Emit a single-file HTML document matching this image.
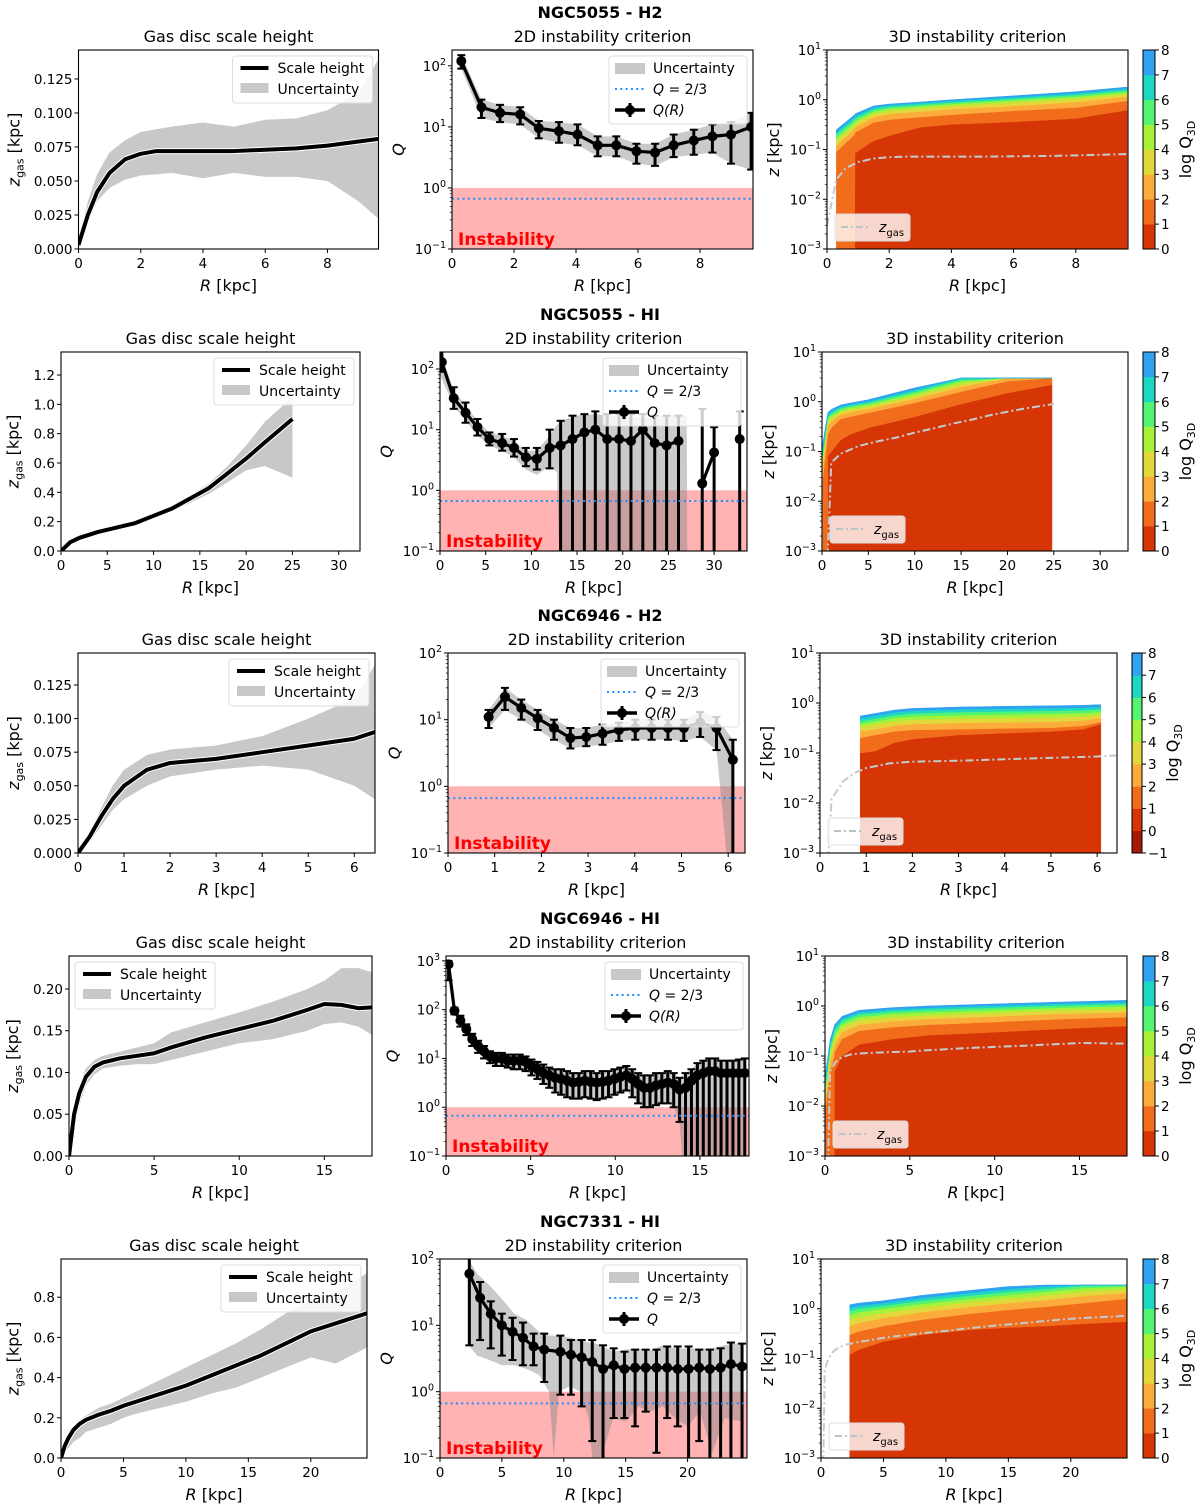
<!DOCTYPE html>
<html><head><meta charset="utf-8"><style>
html,body{margin:0;padding:0;background:#fff;overflow:hidden;width:1200px;height:1509px;}
svg{display:block;font-family:"DejaVu Sans","Liberation Sans",sans-serif;}
</style></head><body>
<svg id="fig" width="1200" height="1509" viewBox="0 0 1200 1509" xmlns="http://www.w3.org/2000/svg"></svg>
<script>
// ---------------- DATA ----------------
// Row 1: NGC5055 - H2
const r1L_R=[0,0.3,0.6,1,1.5,2,2.5,3,4,5,6,7,8,9,9.65];
const r1L_z=[0.003,0.025,0.042,0.056,0.066,0.070,0.072,0.072,0.072,0.072,0.073,0.074,0.076,0.079,0.081];
const r1L_hi=[0.005,0.035,0.055,0.071,0.080,0.086,0.088,0.090,0.093,0.090,0.095,0.096,0.102,0.115,0.14];
const r1L_lo=[0.002,0.02,0.035,0.045,0.051,0.054,0.055,0.056,0.052,0.056,0.053,0.053,0.050,0.035,0.022];
const r1M_R=[0.3,0.95,1.55,2.2,2.8,3.45,4.05,4.7,5.3,5.95,6.55,7.15,7.8,8.4,9.0,9.65];
const r1M_Q=[120,21,17,16,9.5,8.5,7.5,5,5,4,3.8,5,6,7,7.5,10];
const r1M_up=[150,28,23,21,12.5,12,11,7,7,5.3,5.3,7.5,9,11,12,17];
const r1M_lo=[90,14,12,11,6.5,5.5,5,3.3,3.3,2.5,2.3,3.2,3.5,3.8,2.5,2];
const r1R_R=[0.3,0.89,0.9,1.5,2,3,4,6,8,9.65];
const r1R_b=[
[0.001,0.001,0.085,0.15,0.19,0.28,0.32,0.36,0.42,0.62],
[0.09,0.2,0.22,0.35,0.4,0.45,0.5,0.6,0.7,0.95],
[0.12,0.26,0.28,0.45,0.52,0.58,0.65,0.75,0.9,1.15],
[0.15,0.31,0.33,0.52,0.6,0.67,0.75,0.88,1.05,1.3],
[0.17,0.35,0.37,0.58,0.66,0.74,0.82,0.97,1.15,1.42],
[0.2,0.4,0.42,0.64,0.72,0.8,0.88,1.05,1.25,1.55],
[0.22,0.45,0.47,0.7,0.78,0.86,0.95,1.12,1.35,1.68],
[0.25,0.5,0.52,0.75,0.82,0.9,1.0,1.2,1.45,1.8]];
// Row 2: NGC5055 - HI
const r2L_R=[0,1,2,4,6,8,10,12,14,16,18,20,22,25];
const r2L_z=[0.0,0.06,0.09,0.13,0.16,0.19,0.24,0.29,0.36,0.43,0.53,0.63,0.74,0.9];
const r2L_hi=[0,0.07,0.1,0.14,0.17,0.21,0.26,0.31,0.38,0.46,0.58,0.72,0.88,1.05];
const r2L_lo=[0,0.05,0.08,0.12,0.15,0.17,0.22,0.27,0.33,0.39,0.47,0.55,0.58,0.5];
const r2M_R=[0.2,1.5,2.8,4.1,5.4,6.8,8.1,9.4,10.6,12.0,13.2,14.5,15.8,17.0,18.3,19.6,20.9,22.2,23.5,24.8,26.1,27.4,28.7,30.0,31.4,32.8];
const r2M_Q=[130,33,19,11,7,6,5,3.5,3.3,5,5.5,7,9,10,7,7,6.5,10,6,5.5,6.5,null,1.3,4.2,null,7];
const r2M_up=[200,50,28,15,9,8.5,7,5,5,10,14,17,18,20,18,18,18,18,17,17,17,null,22,11,null,20];
const r2M_lo=[90,22,13,8,5.5,4.5,3.6,2.5,2.2,2.3,0.01,0.01,0.01,0.01,0.01,0.01,0.01,0.01,0.01,0.01,0.01,null,0.01,0.01,null,0.01];
const r2M_bR=[0,1.5,2.8,4.1,5.4,6.8,8.1,9.4,10.6,12,12.8,13.2,15,17,20,22,25,27,27.1];
const r2M_bHi=[200,45,25,14,9,8,6.5,4.5,4.5,8,12,14,17,18,16,16,17,17,0.01];
const r2M_bLo=[80,25,14,8,5.5,4.5,3.5,2.2,1.8,2.5,2,0.01,0.01,0.01,0.01,0.01,0.01,0.01,0.01];
const r2R_R=[0.1,0.6,0.61,1,2,3,5,10,15,20,24.8];
const r2R_b=[
[0.001,0.001,0.08,0.1,0.17,0.22,0.3,0.5,0.9,1.5,2.2],
[0.03,0.2,0.22,0.3,0.45,0.5,0.6,0.95,1.6,2.6,3],
[0.05,0.3,0.32,0.4,0.55,0.62,0.72,1.15,2,3,3],
[0.07,0.36,0.38,0.46,0.62,0.7,0.8,1.3,2.3,3,3],
[0.08,0.42,0.44,0.52,0.68,0.76,0.88,1.45,2.6,3,3],
[0.1,0.47,0.49,0.58,0.74,0.82,0.95,1.6,2.8,3,3],
[0.12,0.52,0.54,0.64,0.8,0.88,1.02,1.75,3,3,3],
[0.15,0.57,0.6,0.7,0.86,0.94,1.1,1.9,3,3,3]];
// Row 3: NGC6946 - H2
const r3L_R=[0,0.25,0.5,0.75,1,1.5,2,3,4,5,6,6.45];
const r3L_z=[0,0.012,0.027,0.04,0.05,0.062,0.067,0.070,0.075,0.080,0.085,0.09];
const r3L_hi=[0,0.015,0.033,0.05,0.062,0.073,0.077,0.08,0.087,0.1,0.115,0.14];
const r3L_lo=[0,0.008,0.02,0.032,0.04,0.05,0.057,0.062,0.065,0.062,0.05,0.04];
const r3M_R=[0.87,1.22,1.57,1.92,2.27,2.62,2.96,3.31,3.66,4.01,4.36,4.71,5.05,5.4,5.75,6.1];
const r3M_Q=[11,22,15,10.5,7.5,5.3,5.5,6.2,7,7.5,7.5,7.5,7.5,9,7.5,2.5];
const r3M_up=[14,30,20,14,10,7.5,7.5,8.5,9,10,10,10,10,13,11,5];
const r3M_lo=[7.5,14,10,7,5,3.7,4,4.2,4.8,5,5,5,4.8,5.5,3.5,0.01];
const r3R_R=[0.87,1.2,1.6,2,3,4,5,5.7,6.08];
const r3R_b=[
[0.1,0.11,0.16,0.19,0.23,0.25,0.27,0.3,0.38],
[0.2,0.23,0.27,0.29,0.3,0.31,0.32,0.35,0.42],
[0.27,0.3,0.35,0.38,0.4,0.41,0.42,0.45,0.5],
[0.33,0.37,0.43,0.46,0.49,0.5,0.52,0.54,0.58],
[0.38,0.43,0.5,0.54,0.57,0.59,0.61,0.63,0.66],
[0.43,0.49,0.57,0.62,0.66,0.68,0.7,0.72,0.75],
[0.49,0.56,0.65,0.7,0.75,0.77,0.79,0.81,0.84],
[0.55,0.62,0.72,0.78,0.83,0.86,0.88,0.9,0.93]];
// Row 4: NGC6946 - HI
const r4L_R=[0,0.3,0.6,1,1.5,2,3,4,5,6,8,10,12,14,15,16,17,17.8];
const r4L_z=[0,0.05,0.075,0.095,0.107,0.112,0.117,0.12,0.123,0.13,0.142,0.152,0.162,0.175,0.182,0.181,0.177,0.178];
const r4L_hi=[0,0.06,0.085,0.105,0.115,0.12,0.125,0.13,0.135,0.148,0.16,0.172,0.185,0.2,0.21,0.225,0.225,0.22];
const r4L_lo=[0,0.03,0.06,0.085,0.098,0.105,0.108,0.11,0.11,0.115,0.125,0.135,0.14,0.15,0.158,0.16,0.155,0.145];
const r4M_R=[0.15,0.5,0.85,1.2,1.55,1.9,2.25,2.6,2.95,3.3,3.65,4.0,4.35,4.7,5.05,5.4,5.75,6.1,6.45,6.8,7.15,7.5,7.85,8.2,8.55,8.9,9.25,9.6,9.95,10.3,10.65,11.0,11.35,11.7,12.05,12.4,12.75,13.1,13.45,13.8,14.15,14.5,14.85,15.2,15.55,15.9,16.25,16.6,16.95,17.3,17.65];
const r4M_Q=[850,95,60,40,25,18,14,11,10,10,9,9,9,8.5,7,6,5,4.5,4,3.8,3.5,3.2,3.3,3.5,3.3,3.2,3.3,3.5,3.8,4.2,4.5,3.8,3,2.5,2.5,2.8,3,3.2,3,2.3,2.5,3.5,4.5,5,5.5,5.5,5,5,5,5,5];
const r4M_up=[1000,110,75,50,32,23,18,14,13,13,12,12,12,11,9.5,8.5,7.5,6.5,6,6,5.5,5,5,5.5,5.5,5,5.5,5.5,6,6.5,7,6,5,4.5,4.5,5,5,5.5,5,4,5,6,8,9,10,10,9,9,9,9.5,10];
const r4M_lo=[400,80,45,30,18,13,10,8,7,7,6.5,6,6,5.5,4.5,3.8,3,2.5,2,1.8,1.6,1.5,1.5,1.6,1.5,1.4,1.5,1.6,1.8,2,2.2,1.6,1.2,1,1,1.1,1.2,1.2,1,0.5,0.01,0.01,0.01,0.01,0.01,0.01,0.01,0.01,0.01,0.01,0.01];
const r4R_R=[0.05,0.3,0.55,0.56,1,2,4,6,10,14,17.8];
const r4R_b=[
[0.001,0.001,0.001,0.05,0.1,0.17,0.22,0.26,0.3,0.35,0.4],
[0.01,0.05,0.1,0.12,0.22,0.32,0.38,0.42,0.48,0.55,0.6],
[0.015,0.08,0.15,0.17,0.3,0.42,0.5,0.55,0.62,0.7,0.75],
[0.02,0.1,0.2,0.22,0.37,0.52,0.6,0.65,0.73,0.82,0.88],
[0.025,0.13,0.25,0.27,0.43,0.6,0.7,0.75,0.83,0.93,1.0],
[0.03,0.15,0.3,0.32,0.5,0.68,0.78,0.84,0.93,1.03,1.1],
[0.04,0.18,0.35,0.37,0.56,0.75,0.86,0.92,1.02,1.12,1.2],
[0.05,0.21,0.4,0.42,0.62,0.82,0.93,1.0,1.1,1.2,1.3]];
// Row 5: NGC7331 - HI
const r5L_R=[0,0.3,0.6,1,1.5,2,3,4,5,6,8,10,12,14,16,18,20,22,24.5];
const r5L_z=[0,0.06,0.1,0.14,0.17,0.19,0.215,0.235,0.26,0.28,0.32,0.36,0.41,0.46,0.51,0.57,0.63,0.67,0.72];
const r5L_hi=[0,0.07,0.12,0.16,0.19,0.21,0.25,0.27,0.3,0.33,0.39,0.45,0.51,0.57,0.64,0.72,0.78,0.82,0.92];
const r5L_lo=[0,0.03,0.05,0.08,0.1,0.13,0.15,0.17,0.2,0.22,0.25,0.28,0.32,0.35,0.4,0.45,0.5,0.47,0.55];
const r5M_R=[2.37,3.24,4.1,4.99,5.86,6.7,7.56,8.42,9.72,10.58,11.44,12.3,13.17,14.03,14.9,15.76,16.62,17.49,18.35,19.2,20.08,20.94,21.8,22.67,23.5,24.4];
const r5M_Q=[60,26,15,10,8,6.5,4.8,4.3,4,3.6,3.3,2.8,2.2,2.5,2.2,2.3,2.3,2.3,2.3,2.2,2.2,2.3,2.2,2.3,2.6,2.4];
const r5M_up=[110,45,23,15,13,11,7.5,7.5,7,6,6,6,5,4.5,4,4.3,4.3,4.3,4.8,4.8,4.8,4.3,4.3,4.5,5.5,5.3];
const r5M_lo=[5,6,4.5,3.5,3,2.5,2.5,1.4,0.9,0.9,0.6,0.18,0.01,0.4,0.4,0.3,0.5,0.12,0.4,0.3,0.01,0.18,0.01,0.01,0.01,0.01];
const r5M_bR=[2.3,3,4,5,6,7,8,8.8,9.2,9.6,10.5,11.3,12,12.3,13,14,15,16,17,18,19,20,21,22,23,24.5];
const r5M_bHi=[100,60,40,25,15,12,8,7,7,7,6.5,6,5.5,5.5,5,4,4.3,4.5,4.2,5,4.5,4.5,4.5,4.5,5,5.5];
const r5M_bLo=[5,3.5,3,2.5,2.5,2.2,1.8,1,0.1,1,1.2,1,0.4,0.1,0.1,0.4,0.35,0.6,0.5,0.6,0.4,0.3,0.5,0.12,0.4,0.35];
const r5R_R=[2.3,3,5,8,12,15,18,21,24.5];
const r5R_b=[
[0.12,0.15,0.22,0.3,0.38,0.42,0.45,0.5,0.55],
[0.3,0.35,0.45,0.6,0.8,0.95,1.1,1.3,1.6],
[0.45,0.52,0.65,0.85,1.1,1.3,1.5,1.8,2.1],
[0.6,0.68,0.82,1.05,1.35,1.6,1.85,2.2,2.5],
[0.75,0.85,1.0,1.25,1.6,1.9,2.2,2.6,2.8],
[0.9,1.0,1.15,1.45,1.85,2.2,2.5,2.9,3],
[1.05,1.15,1.3,1.65,2.1,2.5,2.8,3,3],
[1.2,1.3,1.45,1.85,2.35,2.8,3,3,3]];
const levelColors=['#d63506','#f26d1b','#fcac3a','#e2d83c','#a6f23a','#52f472','#1ed7c3','#2fa3f2'];
const negColor='#a51a02';
const galaxyNames=['NGC5055 - H2','NGC5055 - HI','NGC6946 - H2','NGC6946 - HI','NGC7331 - HI'];

// ---------------- RENDER ----------------
const NS='http://www.w3.org/2000/svg';
const svg=document.getElementById('fig');
let clipN=0;
function el(tag,attrs,parent){const e=document.createElementNS(NS,tag);for(const k in attrs)e.setAttribute(k,attrs[k]);(parent||svg).appendChild(e);return e;}
function txt(x,y,s,size,anchor,parent,extra){const t=el('text',Object.assign({x:x,y:y,'font-size':size,'text-anchor':anchor||'middle',fill:'#000'},extra||{}),parent);t.textContent=s;return t;}
function pow10Label(x,y,exp,anchor,parent){
  const t=el('text',{x:x,y:y,'font-size':13.5,'text-anchor':anchor,fill:'#000'},parent);
  
  
  const a=el('tspan',{},t);a.textContent='10';
  const b=el('tspan',{dy:-6,'font-size':9.5},t);b.textContent=exp<0?'\u2212'+(-exp):String(exp);
  return t;
}
function makeAxes(c){
  const g=el('g',{});
  
  
  const id='clip'+(clipN++);
  const cp=el('clipPath',{id:id},g);
  el('rect',{x:c.x0,y:c.y0,width:c.x1-c.x0,height:c.y1-c.y0},cp);
  const X=v=>c.x0+(v-(c.xmin||0))/(c.xmax-(c.xmin||0))*(c.x1-c.x0);
  const Y=c.log?(v=>{const l=Math.log10(Math.max(v,1e-6));return c.y1-(l-Math.log10(c.ymin))/(Math.log10(c.ymax)-Math.log10(c.ymin))*(c.y1-c.y0);})
               :(v=>c.y1-(v-c.ymin)/(c.ymax-c.ymin)*(c.y1-c.y0));
  const inner=el('g',{'clip-path':'url(#'+id+')'},g);
  return {c,g,inner,X,Y};
}
function finishAxes(ax,xt,yt,ylab,ylabType){
  const c=ax.c,g=ax.g;
  const fr=el('rect',{x:c.x0,y:c.y0,width:c.x1-c.x0,height:c.y1-c.y0,fill:'none',stroke:'#000','stroke-width':1.1},g);
  
  
  xt.forEach(v=>{const x=ax.X(v);el('line',{x1:x,x2:x,y1:c.y1,y2:c.y1+4,stroke:'#000'},g);
    const t=txt(x,c.y1+19,String(v),13.5,'middle',g);
    
    });
  let maxw=0;
  if(c.log){
    const a=Math.round(Math.log10(c.ymin)),b=Math.floor(Math.log10(c.ymax)+1e-9);
    for(let e=a;e<=b;e++){const y=ax.Y(Math.pow(10,e));el('line',{x1:c.x0-4,x2:c.x0,y1:y,y2:y,stroke:'#000'},g);
      pow10Label(c.x0-6,y+5,e,'end',g);maxw=Math.max(maxw,e<0?30:24);
      for(let m=2;m<10;m++){const v=m*Math.pow(10,e);if(v>c.ymax)break;const ym=ax.Y(v);el('line',{x1:c.x0-2.2,x2:c.x0,y1:ym,y2:ym,stroke:'#000','stroke-width':0.7},g);}}
  } else {
    yt.vals.forEach(v=>{const y=ax.Y(v);el('line',{x1:c.x0-4,x2:c.x0,y1:y,y2:y,stroke:'#000'},g);
      const s=v.toFixed(yt.dec);const t=txt(c.x0-6,y+5,s,13.5,'end',g);
      
      
      maxw=Math.max(maxw,s.length*8.2);});
  }
  const xl=el('text',{x:(c.x0+c.x1)/2,y:c.y1+42,'font-size':16,'text-anchor':'middle'},g);
  
  
  const r=el('tspan',{'font-style':'italic'},xl);r.textContent='R';const k=el('tspan',{},xl);k.textContent=' [kpc]';
  const lx=c.x0-6-maxw-12,ly=(c.y0+c.y1)/2;
  const yl=el('text',{x:lx,y:ly,'font-size':16,'text-anchor':'middle',transform:'rotate(-90 '+lx+' '+ly+')'},g);
  
  
  if(ylabType==='zgas'){const a=el('tspan',{'font-style':'italic'},yl);a.textContent='z';const b=el('tspan',{dy:4,'font-size':11},yl);b.textContent='gas';const d=el('tspan',{dy:-4},yl);d.textContent=' [kpc]';}
  else if(ylabType==='Q'){const a=el('tspan',{'font-style':'italic'},yl);a.textContent='Q';}
  else {const a=el('tspan',{'font-style':'italic'},yl);a.textContent='z';const b=el('tspan',{},yl);b.textContent=' [kpc]';}
}
function title(ax,s){const t=txt((ax.c.x0+ax.c.x1)/2,ax.c.y0-8,s,16,'middle',ax.g);
  
  }
function band(ax,R,lo,hi,fill){
  let pts=[];for(let i=0;i<R.length;i++)if(hi[i]!=null)pts.push(ax.X(R[i])+','+ax.Y(hi[i]));
  for(let i=R.length-1;i>=0;i--)if(lo[i]!=null)pts.push(ax.X(R[i])+','+ax.Y(lo[i]));
  const p=el('polygon',{points:pts.join(' '),fill:fill||'#c8c8c8'},ax.inner);
  
  
}
function line(ax,R,z,attrs,name){
  let segs=[],cur=[];
  for(let i=0;i<R.length;i++){if(z[i]==null){if(cur.length)segs.push(cur);cur=[];continue;}cur.push(ax.X(R[i])+','+ax.Y(z[i]));}
  if(cur.length)segs.push(cur);
  segs.forEach(s=>{const p=el('polyline',Object.assign({points:s.join(' '),fill:'none','stroke-linejoin':'round'},attrs),ax.inner);
    
    });
}
function errs(ax,R,Q,lo,up){
  line(ax,R,Q,{stroke:'#000','stroke-width':3.2},'q-line');
  for(let i=0;i<R.length;i++){if(Q[i]==null)continue;const x=ax.X(R[i]);
    const e=el('line',{x1:x,x2:x,y1:ax.Y(lo[i]),y2:ax.Y(up[i]),stroke:'#000','stroke-width':3},ax.inner);
    
    
    el('line',{x1:x-4,x2:x+4,y1:ax.Y(up[i]),y2:ax.Y(up[i]),stroke:'#000','stroke-width':2},ax.inner);
    el('line',{x1:x-4,x2:x+4,y1:ax.Y(lo[i]),y2:ax.Y(lo[i]),stroke:'#000','stroke-width':2},ax.inner);
    const m=el('circle',{cx:x,cy:ax.Y(Q[i]),r:5,fill:'#000'},ax.inner);
    
    }
}
function instab(ax){
  const c=ax.c;
  const r=el('rect',{x:c.x0,y:ax.Y(1),width:c.x1-c.x0,height:c.y1-ax.Y(1),fill:'#ffb3b3'},ax.inner);
  
  
  const l=el('line',{x1:c.x0,x2:c.x1,y1:ax.Y(2/3),y2:ax.Y(2/3),stroke:'#1e8fff','stroke-width':2,'stroke-dasharray':'2 3.3'},ax.g);
  
  
  const t=txt(c.x0+6,c.y1-4,'Instability',17,'start',ax.g,{'font-weight':'bold',fill:'#ff0000'});
  
  
}
function contours(ax,R,B){
  const lows=[R.map(()=>ax.c.ymin)].concat(B);
  for(let k=0;k<B.length;k++){
    const lo=lows[k],hi=B[k];let pts=[];
    for(let i=0;i<R.length;i++)pts.push(ax.X(R[i])+','+ax.Y(hi[i]));
    for(let i=R.length-1;i>=0;i--)pts.push(ax.X(R[i])+','+ax.Y(lo[i]));
    const p=el('polygon',{points:pts.join(' '),fill:levelColors[k],stroke:levelColors[k],'stroke-width':0.5},ax.inner);
    
    
  }
}
function legendLeft(ax,topLeft){
  const c=ax.c,w=140,h=47;const x=topLeft?c.x0+6:c.x1-6-w,y=c.y0+6;
  const g=el('g',{},ax.g);
  
  
  el('rect',{x:x,y:y,width:w,height:h,rx:3,fill:'rgba(255,255,255,0.85)',stroke:'#ddd'},g);
  el('line',{x1:x+8,x2:x+36,y1:y+12,y2:y+12,stroke:'#000','stroke-width':4},g);
  txt(x+45,y+17,'Scale height',14,'start',g);
  el('rect',{x:x+8,y:y+27,width:28,height:10,fill:'#c8c8c8'},g);
  txt(x+45,y+38,'Uncertainty',14,'start',g);
}
function legendMid(ax,qlab){
  const c=ax.c,w=138,h=68;const x=c.x1-6-w,y=c.y0+6;
  const g=el('g',{},ax.g);
  
  
  el('rect',{x:x,y:y,width:w,height:h,rx:3,fill:'rgba(255,255,255,0.8)',stroke:'#ddd'},g);
  el('rect',{x:x+6,y:y+7,width:30,height:11,fill:'#c8c8c8'},g);
  txt(x+44,y+17,'Uncertainty',14,'start',g);
  el('line',{x1:x+6,x2:x+36,y1:y+33,y2:y+33,stroke:'#1e8fff','stroke-width':2,'stroke-dasharray':'2 3.3'},g);
  const t=el('text',{x:x+44,y:y+38,'font-size':14},g);
  const a=el('tspan',{'font-style':'italic'},t);a.textContent='Q';const b=el('tspan',{},t);b.textContent=' = 2/3';
  el('line',{x1:x+6,x2:x+36,y1:y+54,y2:y+54,stroke:'#000','stroke-width':3.5},g);
  el('line',{x1:x+21,x2:x+21,y1:y+47,y2:y+61,stroke:'#000','stroke-width':3},g);
  el('circle',{cx:x+21,cy:y+54,r:5,fill:'#000'},g);
  const q=el('text',{x:x+44,y:y+59,'font-size':14,'font-style':'italic'},g);q.textContent=qlab;
}
function legendRight(ax){
  const c=ax.c;const x=c.x0+8,y=c.y1-35,w=75,h=27;
  const g=el('g',{},ax.g);
  
  
  el('rect',{x:x,y:y,width:w,height:h,rx:3,fill:'rgba(255,255,255,0.8)',stroke:'#ddd'},g);
  el('line',{x1:x+6,x2:x+34,y1:y+13,y2:y+13,stroke:'#b8c4c8','stroke-width':2,'stroke-dasharray':'7 3 2 3'},g);
  const t=el('text',{x:x+44,y:y+18,'font-size':14},g);
  const a=el('tspan',{'font-style':'italic'},t);a.textContent='z';const b=el('tspan',{dy:4,'font-size':10},t);b.textContent='gas';
}
function colorbar(x0,x1,y0,y1,minL){
  const g=el('g',{});
  
  
  const n=8-minL,hh=(y1-y0)/n;
  for(let k=minL;k<8;k++){const col=k<0?negColor:levelColors[k];const yy=y1-(k-minL+1)*hh;
    el('rect',{x:x0,y:yy,width:x1-x0,height:hh+0.3,fill:col},g);}
  el('rect',{x:x0,y:y0,width:x1-x0,height:y1-y0,fill:'none',stroke:'#000','stroke-width':1},g);
  for(let k=minL;k<=8;k++){const yy=y1-(k-minL)*hh;el('line',{x1:x1,x2:x1+4,y1:yy,y2:yy,stroke:'#000'},g);
    txt(x1+6,yy+5,k<0?'\u2212'+(-k):String(k),13.5,'start',g);}
  const lx=x1+36,ly=(y0+y1)/2;
  const t=el('text',{x:lx,y:ly,'font-size':16,'text-anchor':'middle',transform:'rotate(-90 '+lx+' '+ly+')'},g);
  const a=el('tspan',{},t);a.textContent='log Q';const b=el('tspan',{dy:4,'font-size':11},t);b.textContent='3D';
}

const rows=[
 {y0:50,y1:249,name:galaxyNames[0],
  L:{x0:78.5,x1:378.5,xmax:9.64,ymin:0,ymax:0.1463,xt:[0,2,4,6,8],yt:{vals:[0,0.025,0.05,0.075,0.1,0.125],dec:3},R:r1L_R,z:r1L_z,lo:r1L_lo,hi:r1L_hi},
  M:{x0:452,x1:753,xmax:9.71,ymin:0.1,ymax:Math.pow(10,2.26),xt:[0,2,4,6,8],R:r1M_R,Q:r1M_Q,lo:r1M_lo,up:r1M_up,ql:'Q(R)'},
  Rt:{x0:827,x1:1128,xmax:9.68,xt:[0,2,4,6,8],R:r1R_R,B:r1R_b},cb:[1143,1155,0]},
 {y0:352,y1:551,name:galaxyNames[1],
  L:{x0:61,x1:360,xmax:32.3,ymin:0,ymax:1.357,xt:[0,5,10,15,20,25,30],yt:{vals:[0,0.2,0.4,0.6,0.8,1.0,1.2],dec:1},R:r2L_R,z:r2L_z,lo:r2L_lo,hi:r2L_hi},
  M:{x0:440,x1:747,xmax:33.6,ymin:0.1,ymax:Math.pow(10,2.28),xt:[0,5,10,15,20,25,30],R:r2M_R,Q:r2M_Q,lo:r2M_lo,up:r2M_up,bR:r2M_bR,bLo:r2M_bLo,bHi:r2M_bHi,ql:'Q'},
  Rt:{x0:822,x1:1128,xmax:33.0,xt:[0,5,10,15,20,25,30],R:r2R_R,B:r2R_b},cb:[1143,1155,0]},
 {y0:653,y1:853,name:galaxyNames[2],
  L:{x0:78,x1:375,xmax:6.45,ymin:0,ymax:0.1488,xt:[0,1,2,3,4,5,6],yt:{vals:[0,0.025,0.05,0.075,0.1,0.125],dec:3},R:r3L_R,z:r3L_z,lo:r3L_lo,hi:r3L_hi},
  M:{x0:448,x1:745,xmax:6.36,ymin:0.1,ymax:100,xt:[0,1,2,3,4,5,6],R:r3M_R,Q:r3M_Q,lo:r3M_lo,up:r3M_up,ql:'Q(R)'},
  Rt:{x0:820,x1:1117,xmax:6.43,xt:[0,1,2,3,4,5,6],R:r3R_R,B:r3R_b},cb:[1132,1142,-1]},
 {y0:956,y1:1156,name:galaxyNames[3],
  L:{x0:69,x1:372,xmax:17.8,ymin:0,ymax:0.2395,xt:[0,5,10,15],yt:{vals:[0,0.05,0.1,0.15,0.2],dec:2},R:r4L_R,z:r4L_z,lo:r4L_lo,hi:r4L_hi,tl:true},
  M:{x0:446,x1:749,xmax:17.9,ymin:0.1,ymax:Math.pow(10,3.1),xt:[0,5,10,15],R:r4M_R,Q:r4M_Q,lo:r4M_lo,up:r4M_up,ql:'Q(R)'},
  Rt:{x0:825,x1:1127,xmax:17.8,xt:[0,5,10,15],R:r4R_R,B:r4R_b},cb:[1143,1155,0]},
 {y0:1259,y1:1458,name:galaxyNames[4],
  L:{x0:61,x1:367,xmax:24.5,ymin:0,ymax:0.99,xt:[0,5,10,15,20],yt:{vals:[0,0.2,0.4,0.6,0.8],dec:1},R:r5L_R,z:r5L_z,lo:r5L_lo,hi:r5L_hi},
  M:{x0:440,x1:747,xmax:24.8,ymin:0.1,ymax:100,xt:[0,5,10,15,20],R:r5M_R,Q:r5M_Q,lo:r5M_lo,up:r5M_up,bR:r5M_bR,bLo:r5M_bLo,bHi:r5M_bHi,ql:'Q'},
  Rt:{x0:821,x1:1127,xmax:24.5,xt:[0,5,10,15,20],R:r5R_R,B:r5R_b},cb:[1143,1155,0]}
];

rows.forEach((r,ri)=>{
  const gt=txt(600,r.y0-32,r.name,16,'middle',svg,{'font-weight':'bold'});
  
  
  const L=r.L;
  const a1=makeAxes({name:'scale-height-panel',x0:L.x0,x1:L.x1,y0:r.y0,y1:r.y1,xmax:L.xmax,ymin:L.ymin,ymax:L.ymax,log:false});
  band(a1,L.R,L.lo,L.hi);
  line(a1,L.R,L.z,{stroke:'#fff','stroke-width':6},'scale-height-outline');
  line(a1,L.R,L.z,{stroke:'#000','stroke-width':4},'scale-height-line');
  title(a1,'Gas disc scale height');
  finishAxes(a1,L.xt,L.yt,'','zgas');
  legendLeft(a1,L.tl);
  const M=r.M;
  const a2=makeAxes({name:'q2d-panel',x0:M.x0,x1:M.x1,y0:r.y0,y1:r.y1,xmax:M.xmax,ymin:M.ymin,ymax:M.ymax,log:true});
  instab(a2);
  if(M.bR)band(a2,M.bR,M.bLo,M.bHi,'rgba(128,128,128,0.42)');
  else band(a2,M.R,M.lo,M.up,'rgba(128,128,128,0.42)');
  errs(a2,M.R,M.Q,M.lo,M.up);
  title(a2,'2D instability criterion');
  finishAxes(a2,M.xt,null,'','Q');
  legendMid(a2,M.ql);
  const T=r.Rt;
  const a3=makeAxes({name:'q3d-panel',x0:T.x0,x1:T.x1,y0:r.y0,y1:r.y1,xmax:T.xmax,ymin:0.001,ymax:10,log:true});
  contours(a3,T.R,T.B);
  line(a3,L.R,L.z,{stroke:'#c0ccd0','stroke-width':2,'stroke-dasharray':'8 3 2 3'},'zgas-line');
  title(a3,'3D instability criterion');
  finishAxes(a3,T.xt,null,'','z');
  legendRight(a3);
  colorbar(r.cb[0],r.cb[1],r.y0,r.y1,r.cb[2]);
});
</script>
</body></html>
